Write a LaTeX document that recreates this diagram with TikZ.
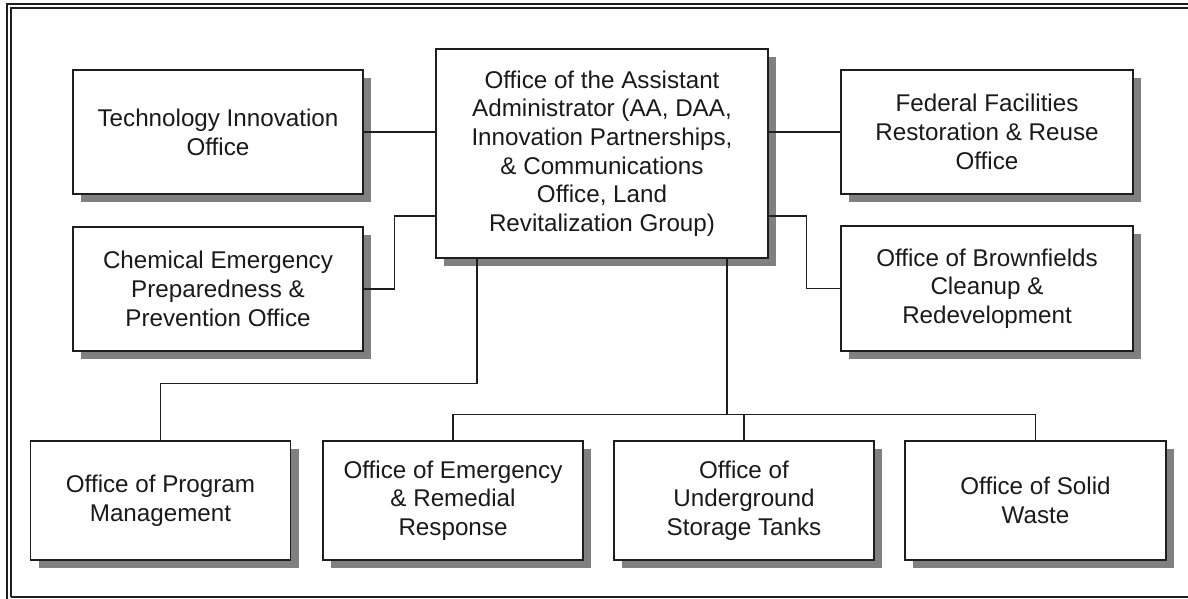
\documentclass[tikz,border=0pt]{standalone}
\usepackage{fontspec}
\setmainfont{Liberation Sans}
\usetikzlibrary{shadows}
\definecolor{lineC}{HTML}{1E1E1E}
\definecolor{shadowC}{HTML}{808080}
\definecolor{textC}{HTML}{1A1A1A}
\tikzset{
  box/.style={draw=lineC, line width=1.4pt, fill=white, align=center,
    text=textC, inner sep=2pt,
    font=\fontsize{24.2}{28.7}\selectfont,
    general shadow={fill=shadowC, shadow xshift=8pt, shadow yshift=-8pt}},
  conn/.style={draw=lineC, line width=1.4pt},
  frame/.style={draw=lineC, line width=1.1pt}
}
\begin{document}
\begin{tikzpicture}[x=1pt,y=-1pt]
\useasboundingbox (0,0) rectangle (1188,599);
% outer frame
\draw[frame] (7,599) -- (7,4) -- (1188,4);
\draw[frame] (11,597) -- (11,8) -- (1188,8);
\draw[frame] (11,597) -- (1188,597);

% boxes
\node[box, minimum width=332pt, minimum height=209pt] (central) at (602,153.5)
  {Office of the Assistant\\Administrator (AA, DAA,\\Innovation Partnerships,\\\& Communications\\Office, Land\\Revitalization Group)};
\node[box, minimum width=290pt, minimum height=124pt] (tech) at (218,132)
  {Technology Innovation\\Office};
\node[box, minimum width=290pt, minimum height=124pt] (chem) at (218,289)
  {Chemical Emergency\\Preparedness \&\\Prevention Office};
\node[box, minimum width=292pt, minimum height=124pt] (fed) at (987,132)
  {Federal Facilities\\Restoration \& Reuse\\Office};
\node[box, minimum width=292pt, minimum height=125pt] (brown) at (987,288.5)
  {Office of Brownfields\\Cleanup \&\\Redevelopment};
\node[box, minimum width=260pt, minimum height=119pt] (prog) at (160.5,500.5)
  {Office of Program\\Management};
\node[box, minimum width=260pt, minimum height=119pt] (emer) at (453,500.5)
  {Office of Emergency\\\& Remedial\\Response};
\node[box, minimum width=260pt, minimum height=119pt] (under) at (744,500.5)
  {Office of\\Underground\\Storage Tanks};
\node[box, minimum width=261pt, minimum height=119pt] (solid) at (1035.5,500.5)
  {Office of Solid\\Waste};

% connectors
\draw[conn] (tech.east) -- (tech.east -| central.west);
\draw[conn] (fed.west) -- (fed.west -| central.east);
\draw[conn] (chem.east) -- ++(31,0) |- ([yshift=-62.5pt]central.west);
\draw[conn] (brown.west) -- ++(-34,0) |- ([yshift=-62.5pt]central.east);
\draw[conn] ([xshift=-125pt]central.south) -- ++(0,125) -| (prog.north);
\draw[conn] ([xshift=125pt]central.south) -- ++(0,156) coordinate (bus);
\draw[conn] (emer.north) |- (bus) -| (solid.north);
\draw[conn] (under.north) -- (under.north |- bus);
\end{tikzpicture}
\end{document}
